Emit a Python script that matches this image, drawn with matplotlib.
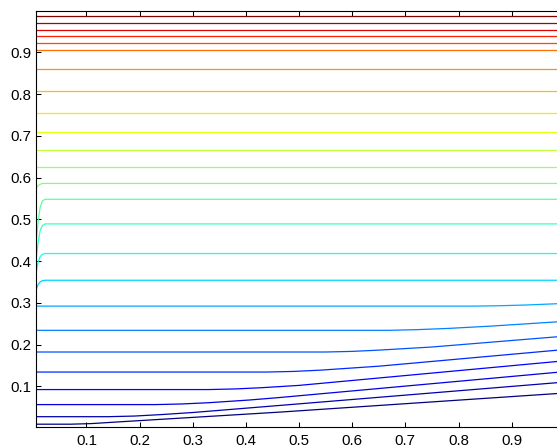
import matplotlib
matplotlib.use("Agg")
import matplotlib.pyplot as plt
import numpy as np

plt.rcParams['font.family'] = ['Liberation Sans', 'DejaVu Sans']

# flat lines (top part), value read at the left edge
flat_levels = [0.987, 0.970, 0.954, 0.939, 0.922, 0.906, 0.861, 0.807,
               0.755, 0.709, 0.666, 0.626]
flat_x = [0.005, 1.0]

# lines with a quick rise at the very left
rise_x = [0.005, 0.009, 0.013, 0.017, 0.022, 1.0]
rise_586 = [0.574, 0.581, 0.584, 0.586, 0.586, 0.586]
rise_548 = [0.440, 0.495, 0.530, 0.544, 0.548, 0.548]
rise_489 = [0.400, 0.445, 0.474, 0.485, 0.489, 0.489]
rise_418 = [0.370, 0.398, 0.411, 0.416, 0.418, 0.418]
rise_354 = [0.330, 0.344, 0.350, 0.353, 0.354, 0.354]

# lines that bend up towards the right (bottom part)
bend_292_x = [0.005, 0.83, 0.88, 0.93, 1.0]
bend_292_y = [0.292, 0.292, 0.293, 0.2948, 0.2985]
bend_234_x = [0.005, 0.67, 0.72, 0.78, 0.86, 1.0]
bend_234_y = [0.234, 0.234, 0.2355, 0.2385, 0.244, 0.2555]
bend_182_x = [0.005, 0.55, 0.60, 0.65, 0.75, 1.0]
bend_182_y = [0.182, 0.182, 0.1835, 0.1865, 0.194, 0.220]
bend_134_x = [0.005, 0.44, 0.49, 0.54, 0.65, 1.0]
bend_134_y = [0.134, 0.134, 0.1355, 0.1385, 0.148, 0.188]
bend_092_x = [0.005, 0.33, 0.38, 0.43, 0.50, 1.0]
bend_092_y = [0.092, 0.092, 0.0935, 0.0965, 0.102, 0.161]
bend_056_x = [0.005, 0.23, 0.28, 0.33, 0.407, 0.464, 1.0]
bend_056_y = [0.056, 0.056, 0.0575, 0.0605, 0.067, 0.073, 0.135]
bend_027_x = [0.005, 0.14, 0.19, 0.24, 0.30, 0.464, 1.0]
bend_027_y = [0.027, 0.027, 0.0285, 0.032, 0.037, 0.054, 0.110]
bend_009_x = [0.005, 0.07, 0.11, 0.16, 0.464, 1.0]
bend_009_y = [0.009, 0.009, 0.0105, 0.0145, 0.038, 0.0837]

xticks = [0.1, 0.2, 0.3, 0.4, 0.5, 0.6, 0.7, 0.8, 0.9]
yticks = [0.1, 0.2, 0.3, 0.4, 0.5, 0.6, 0.7, 0.8, 0.9]

# bottom to top
curves = [
    (bend_009_x, bend_009_y), (bend_027_x, bend_027_y),
    (bend_056_x, bend_056_y), (bend_092_x, bend_092_y),
    (bend_134_x, bend_134_y), (bend_182_x, bend_182_y),
    (bend_234_x, bend_234_y), (bend_292_x, bend_292_y),
    (rise_x, rise_354), (rise_x, rise_418), (rise_x, rise_489),
    (rise_x, rise_548), (rise_x, rise_586),
]
for lv in sorted(flat_levels):
    curves.append((flat_x, [lv, lv]))

fig = plt.figure(figsize=(5.57, 4.48), dpi=100)
ax = fig.add_axes([36 / 557, 21.3 / 448, 528.8 / 557, 416 / 448])

colors = plt.cm.jet(np.linspace(0, 1, len(curves)))
for (xs, ys), c in zip(curves, colors):
    ax.plot(xs, ys, color=c, linewidth=0.9)

ax.set_xlim(0.005, 1.0)
ax.set_ylim(0.003, 1.0)
ax.set_xticks(xticks)
ax.set_yticks(yticks)
ax.set_xticklabels([f"{v:g}" for v in xticks])
ax.set_yticklabels([f"{v:g}" for v in yticks])
ax.tick_params(direction='in', top=True, right=True, length=3.6, width=0.75,
               labelsize=10.8, colors='black')
ax.tick_params(axis='x', pad=5)
ax.tick_params(axis='y', pad=3.5)
for s in ax.spines.values():
    s.set_linewidth(0.8)

fig.savefig("out.png", dpi=100)
